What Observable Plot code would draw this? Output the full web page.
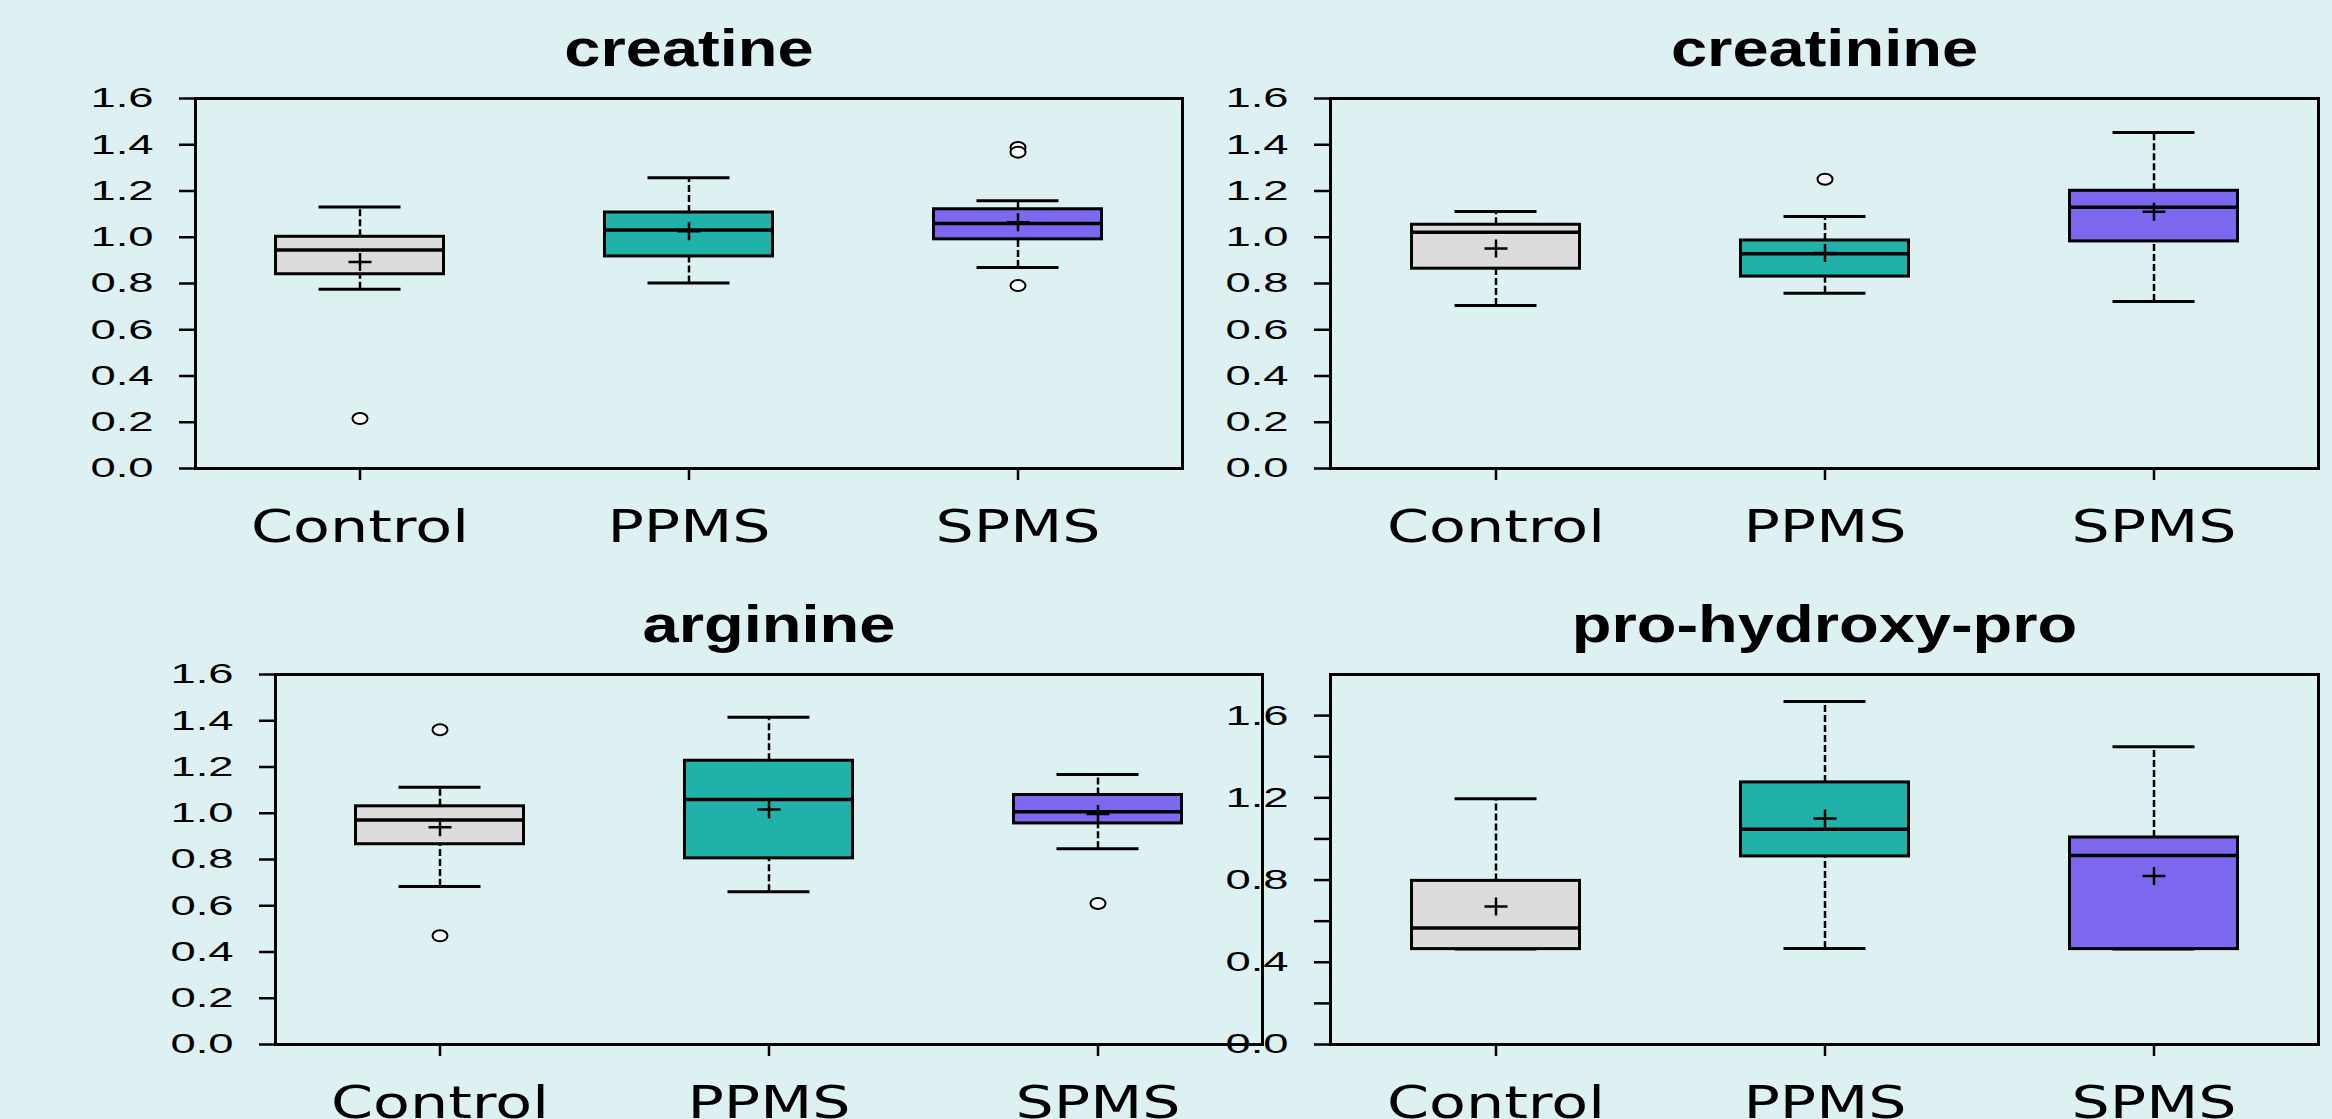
<!DOCTYPE html>
<html><head><meta charset="utf-8">
<script src="https://cdn.jsdelivr.net/npm/d3@7"></script>
<script src="https://cdn.jsdelivr.net/npm/@observablehq/plot@0.6"></script>
<style>
html,body{margin:0;padding:0;background:#DDF0F2;}
#wrap{position:relative;width:2332px;height:1119px;overflow:hidden;background:#DDF0F2;}
#wrap svg{position:absolute;overflow:visible;}
</style></head><body><div id="wrap"></div>
<script>
// ---------- data ----------
const groups = ["Control", "PPMS", "SPMS"];
const groupColors = ["#DCDCDC", "#20B2AA", "#7B68EE"];
const ticksA = [0, 0.2, 0.4, 0.6, 0.8, 1.0, 1.2, 1.4, 1.6];
const labelsA = [0, 0.2, 0.4, 0.6, 0.8, 1.0, 1.2, 1.4, 1.6];
const ticksB = [0, 0.2, 0.4, 0.6, 0.8, 1.0, 1.2, 1.4, 1.6];
const labelsB = [0, 0.4, 0.8, 1.2, 1.6];

// creatine
const creatineLow  = [0.775, 0.802, 0.869];
const creatineQ1   = [0.840, 0.917, 0.991];
const creatineMed  = [0.945, 1.031, 1.060];
const creatineQ3   = [1.002, 1.107, 1.121];
const creatineHigh = [1.131, 1.257, 1.158];
const creatineMean = [0.893, 1.026, 1.065];
const creatineOutGroup = ["Control", "SPMS", "SPMS", "SPMS"];
const creatineOutValue = [0.216, 1.388, 1.368, 0.791];

// creatinine
const creatinineLow  = [0.705, 0.758, 0.722];
const creatinineQ1   = [0.864, 0.830, 0.982];
const creatinineMed  = [1.022, 0.929, 1.130];
const creatinineQ3   = [1.054, 0.986, 1.201];
const creatinineHigh = [1.111, 1.090, 1.453];
const creatinineMean = [0.951, 0.932, 1.110];
const creatinineOutGroup = ["PPMS"];
const creatinineOutValue = [1.251];

// arginine
const arginineLow  = [0.683, 0.661, 0.846];
const arginineQ1   = [0.866, 0.805, 0.956];
const arginineMed  = [0.971, 1.059, 1.007];
const arginineQ3   = [1.030, 1.227, 1.079];
const arginineHigh = [1.112, 1.415, 1.168];
const arginineMean = [0.940, 1.016, 0.997];
const arginineOutGroup = ["Control", "Control", "SPMS"];
const arginineOutValue = [1.361, 0.470, 0.610];

// pro-hydroxy-pro
const prohypLow  = [0.464, 0.467, 0.464];
const prohypQ1   = [0.464, 0.915, 0.464];
const prohypMed  = [0.567, 1.047, 0.919];
const prohypQ3   = [0.796, 1.275, 1.007];
const prohypHigh = [1.195, 1.669, 1.448];
const prohypMean = [0.671, 1.100, 0.820];
const prohypOutGroup = [];
const prohypOutValue = [];

// ---------- symbols ----------
const ellipseSymbol = {
  draw(ctx) {
    const rx = 7.5, ry = 5.5, k = 0.5523;
    ctx.moveTo(rx, 0);
    ctx.bezierCurveTo(rx, ry * k, rx * k, ry, 0, ry);
    ctx.bezierCurveTo(-rx * k, ry, -rx, ry * k, -rx, 0);
    ctx.bezierCurveTo(-rx, -ry * k, -rx * k, -ry, 0, -ry);
    ctx.bezierCurveTo(rx * k, -ry, rx, -ry * k, rx, 0);
    ctx.closePath();
  }
};
const plusSymbol = {
  draw(ctx) {
    ctx.moveTo(-11.5, 0); ctx.lineTo(11.5, 0);
    ctx.moveTo(0, -9); ctx.lineTo(0, 9);
  }
};

function stretchTexts(svg, selector, factor) {
  svg.querySelectorAll(selector).forEach(t => {
    const L = t.getComputedTextLength();
    if (L > 0) {
      t.setAttribute("textLength", (L * factor).toFixed(1));
      t.setAttribute("lengthAdjust", "spacingAndGlyphs");
    }
  });
}

function panel(cfg) {
  const rows = groups.map((g, i) => ({
    group: g, low: cfg.low[i], q1: cfg.q1[i], med: cfg.med[i],
    q3: cfg.q3[i], high: cfg.high[i], mean: cfg.mean[i]
  }));
  const outs = cfg.outGroup.map((g, i) => ({group: g, value: cfg.outValue[i]}));
  const boxInset = 80.5, capInset = 123.5;
  const svg = Plot.plot({
    width: cfg.width, height: cfg.height,
    marginLeft: cfg.mL, marginRight: cfg.mR, marginTop: cfg.mT, marginBottom: cfg.mB,
    style: {background: "transparent", overflow: "visible", color: "black"},
    x: {type: "band", domain: groups, padding: 0},
    y: {domain: cfg.domain},
    color: {domain: groups, range: groupColors},
    marks: [
      Plot.ruleX(rows, {x: "group", y1: "q3", y2: "high", stroke: "black", strokeWidth: 2.5, strokeDasharray: "7,3"}),
      Plot.ruleX(rows, {x: "group", y1: "low", y2: "q1", stroke: "black", strokeWidth: 2.5, strokeDasharray: "7,3"}),
      Plot.tickY(rows, {x: "group", y: "high", stroke: "black", strokeWidth: 3, insetLeft: capInset, insetRight: capInset}),
      Plot.tickY(rows, {x: "group", y: "low", stroke: "black", strokeWidth: 3, insetLeft: capInset, insetRight: capInset}),
      Plot.barY(rows, {x: "group", y1: "q1", y2: "q3", fill: "group", stroke: "black", strokeWidth: 3, insetLeft: boxInset, insetRight: boxInset}),
      Plot.tickY(rows, {x: "group", y: "med", stroke: "black", strokeWidth: 3.5, insetLeft: boxInset, insetRight: boxInset}),
      Plot.dot(rows, {x: "group", y: "mean", symbol: plusSymbol, stroke: "black", fill: "none", strokeWidth: 2.5}),
      Plot.dot(outs, {x: "group", y: "value", symbol: ellipseSymbol, stroke: "black", fill: "white", strokeWidth: 2}),
      Plot.frame({stroke: "black", strokeWidth: 3}),
      Plot.axisY({ticks: cfg.ticks, tickSize: 16, tickPadding: 26, strokeWidth: 2.5,
        tickFormat: d => cfg.labels.some(v => Math.abs(v - d) < 1e-9) ? d.toFixed(1) : "",
        fontSize: 28, fontFamily: "Liberation Sans, Arial, sans-serif", label: null}),
      Plot.axisX({tickSize: 12, tickPadding: 30, strokeWidth: 2.5,
        fontSize: 45, fontFamily: "DejaVu Sans, Verdana, sans-serif", label: null}),
      Plot.text([cfg.title], {frameAnchor: "top", dy: -33, lineAnchor: "bottom",
        fontSize: 52, fontWeight: "bold", fontFamily: "Liberation Sans, Arial, sans-serif", fill: "black"})
    ]
  });
  svg.style.left = cfg.left + "px";
  svg.style.top = cfg.top + "px";
  document.getElementById("wrap").appendChild(svg);
  stretchTexts(svg, 'g[aria-label="y-axis tick label"] text', 1.62);
  stretchTexts(svg, 'g[aria-label="x-axis tick label"] text', 1.34);
  stretchTexts(svg, 'g[aria-label="text"] text', 1.25);
}

panel({title: "creatine", low: creatineLow, q1: creatineQ1, med: creatineMed, q3: creatineQ3,
  high: creatineHigh, mean: creatineMean, outGroup: creatineOutGroup, outValue: creatineOutValue,
  domain: [0, 1.6], ticks: ticksA, labels: labelsA,
  left: 0, top: 0, width: 1200, height: 560, mL: 195, mR: 18, mT: 98, mB: 92});
panel({title: "creatinine", low: creatinineLow, q1: creatinineQ1, med: creatinineMed, q3: creatinineQ3,
  high: creatinineHigh, mean: creatinineMean, outGroup: creatinineOutGroup, outValue: creatinineOutValue,
  domain: [0, 1.6], ticks: ticksA, labels: labelsA,
  left: 1166, top: 0, width: 1166, height: 560, mL: 164, mR: 14, mT: 98, mB: 92});
panel({title: "arginine", low: arginineLow, q1: arginineQ1, med: arginineMed, q3: arginineQ3,
  high: arginineHigh, mean: arginineMean, outGroup: arginineOutGroup, outValue: arginineOutValue,
  domain: [0, 1.6], ticks: ticksA, labels: labelsA,
  left: 0, top: 560, width: 1280, height: 559, mL: 275, mR: 18, mT: 114, mB: 75});
panel({title: "pro-hydroxy-pro", low: prohypLow, q1: prohypQ1, med: prohypMed, q3: prohypQ3,
  high: prohypHigh, mean: prohypMean, outGroup: prohypOutGroup, outValue: prohypOutValue,
  domain: [0, 1.8], ticks: ticksB, labels: labelsB,
  left: 1166, top: 560, width: 1166, height: 559, mL: 164, mR: 14, mT: 114, mB: 75});
</script></body></html>
